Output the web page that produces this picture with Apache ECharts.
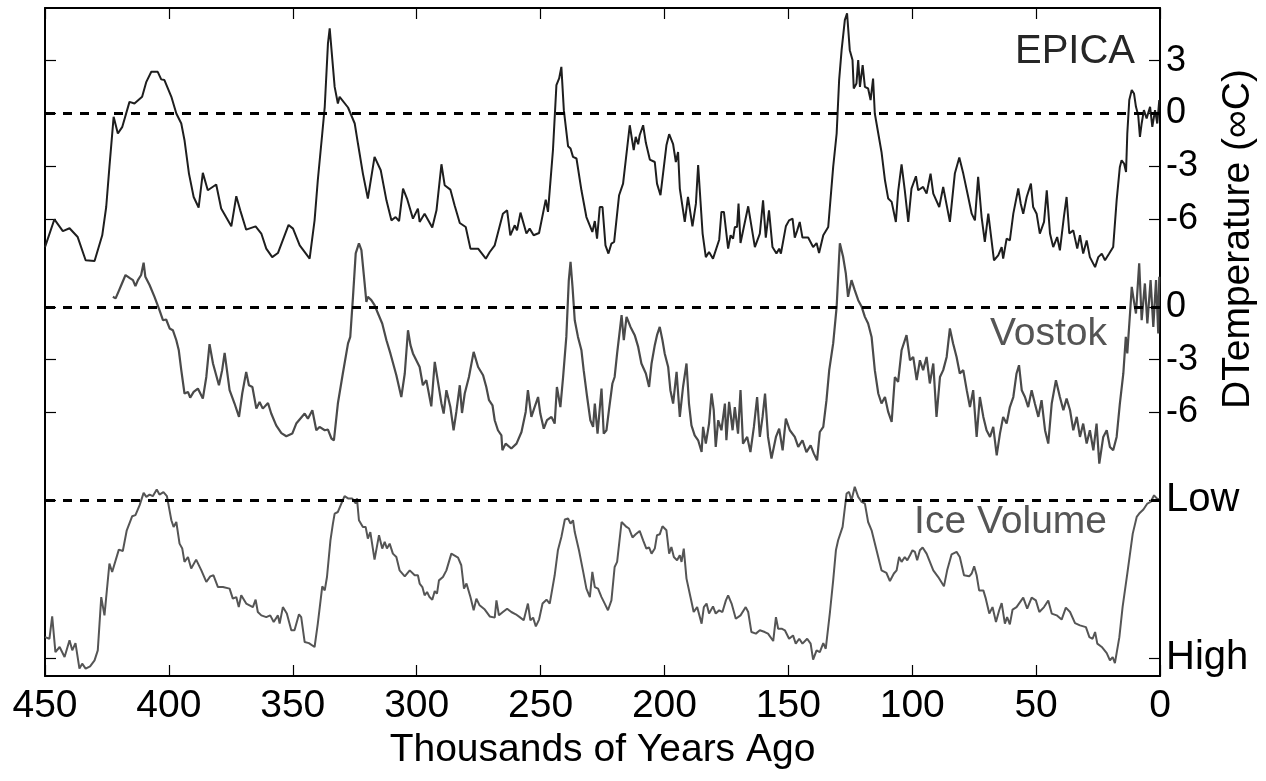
<!DOCTYPE html>
<html><head><meta charset="utf-8">
<script src="https://cdn.jsdelivr.net/npm/echarts@6/dist/echarts.min.js"></script>
<style>html,body{margin:0;padding:0;background:#fff}#c{width:1266px;height:781px}</style>
</head><body><div id="c"></div>
<script>
// ---- DATA (age in thousands of years ago, value) ----
const epica = [[450.0,-7.60],[446.2,-6.02],[442.8,-6.69],[440.1,-6.53],[436.8,-7.03],[433.6,-8.35],[430.0,-8.39],[426.9,-6.93],[425.3,-5.32],[424.0,-3.04],
[422.3,-0.19],[420.6,-1.14],[418.8,-0.76],[415.9,0.66],[413.9,0.57],[410.8,0.95],[409.1,1.80],[407.1,2.37],[404.5,2.37],[403.1,1.94],
[401.8,1.90],[399.0,0.95],[397.0,0.00],[395.0,-0.57],[393.7,-1.52],[391.9,-3.42],[390.0,-4.75],[388.0,-5.35],[386.3,-3.38],[384.3,-4.37],
[380.9,-4.04],[378.9,-5.41],[374.8,-6.42],[372.8,-4.71],[371.2,-5.51],[368.8,-6.61],[365.0,-6.42],[362.7,-6.83],[360.7,-7.69],[358.3,-8.17],
[356.0,-7.94],[351.7,-6.34],[349.9,-6.55],[347.2,-7.50],[343.2,-8.26],[341.2,-6.08],[339.9,-3.80],[338.1,-1.14],[337.1,0.38],[335.8,3.99],
[335.1,4.84],[334.4,4.84],[333.1,1.51],[331.8,0.57],[331.1,0.95],[327.7,0.34],[325.0,-0.57],[323.7,-1.71],[321.7,-3.42],[319.7,-4.84],
[317.0,-2.47],[314.5,-3.23],[312.2,-4.94],[310.2,-6.08],[308.5,-5.89],[307.1,-6.13],[305.5,-4.27],[303.9,-4.84],[301.5,-5.98],[299.5,-5.41],
[298.8,-6.17],[296.8,-5.70],[293.7,-6.49],[292.0,-5.51],[290.0,-2.89],[288.7,-4.08],[286.4,-4.33],[284.7,-5.22],[282.6,-6.23],[280.2,-6.46],
[278.3,-7.69],[275.2,-7.69],[272.1,-8.26],[270.5,-7.88],[268.5,-7.50],[265.2,-5.70],[263.5,-5.51],[262.2,-6.93],[260.4,-6.36],[259.5,-6.65],
[258.1,-5.64],[255.7,-6.83],[254.4,-6.55],[252.8,-6.93],[250.6,-6.80],[247.9,-4.90],[247.0,-5.60],[245.0,-2.09],[243.6,1.61],[242.5,1.99],
[241.6,2.65],[240.6,0.19],[238.9,-1.86],[237.9,-1.99],[236.9,-2.47],[235.5,-2.56],[233.5,-4.37],[231.5,-5.89],[229.1,-6.74],[228.1,-6.12],
[227.2,-7.12],[226.1,-5.32],[225.0,-5.32],[223.8,-7.50],[222.6,-7.97],[221.4,-7.40],[220.3,-7.31],[218.3,-4.65],[216.7,-3.99],[214.0,-0.67],
[212.4,-2.09],[211.6,-1.33],[210.6,-1.75],[210.0,-1.24],[208.6,-0.67],[207.5,-1.67],[205.9,-2.62],[203.9,-2.76],[203.0,-3.99],[201.6,-4.65],
[199.2,-1.81],[198.1,-1.18],[196.5,-1.75],[195.4,-2.76],[194.5,-2.19],[193.8,-4.27],[191.8,-6.17],[190.5,-4.75],[188.7,-6.42],[187.3,-5.13],
[186.4,-2.94],[184.6,-6.83],[183.3,-8.17],[182.0,-7.88],[180.4,-8.26],[177.9,-7.18],[177.0,-5.60],[176.0,-5.60],[174.3,-7.69],[173.3,-6.93],
[172.3,-7.12],[171.6,-6.46],[170.7,-6.46],[170.1,-5.13],[169.3,-7.37],[166.2,-5.28],[163.5,-7.60],[161.5,-6.83],[160.2,-4.94],[159.1,-7.06],
[157.8,-5.51],[156.4,-7.60],[154.8,-7.97],[153.7,-7.69],[153.0,-7.97],[151.0,-6.42],[149.7,-6.08],[148.3,-5.98],[147.4,-7.06],[146.4,-6.65],
[145.4,-6.17],[144.3,-7.06],[142.0,-7.06],[140.0,-7.60],[138.6,-7.37],[137.6,-7.94],[135.9,-6.93],[133.9,-6.46],[131.9,-3.04],[130.5,-1.14],
[129.5,1.90],[128.5,3.60],[127.2,5.31],[126.3,5.70],[125.2,3.60],[124.1,3.04],[123.6,1.42],[122.5,1.71],[121.8,3.04],[121.1,1.51],
[120.0,2.75],[119.1,1.51],[117.8,1.42],[116.8,0.76],[115.8,1.99],[115.1,0.00],[113.7,-1.14],[112.4,-2.19],[111.0,-3.80],[109.7,-4.84],
[108.3,-5.03],[106.6,-6.17],[105.7,-4.46],[104.3,-2.89],[103.0,-4.37],[101.6,-6.17],[100.3,-4.27],[98.5,-3.57],[97.6,-4.37],[95.6,-4.18],
[94.2,-4.56],[92.6,-3.42],[91.5,-4.56],[89.1,-5.32],[87.5,-4.18],[84.8,-6.17],[82.8,-3.42],[81.0,-2.51],[79.4,-3.42],[77.4,-4.75],
[76.0,-5.70],[74.7,-6.08],[73.4,-3.61],[72.0,-5.89],[70.7,-7.31],[69.3,-5.70],[67.0,-8.35],[65.3,-8.07],[63.9,-7.60],[63.3,-8.26],
[61.9,-7.12],[60.6,-7.22],[59.2,-5.70],[57.2,-4.27],[56.2,-5.13],[55.2,-5.70],[53.8,-4.75],[52.1,-3.99],[51.2,-5.32],[49.8,-5.70],
[48.5,-6.83],[46.8,-6.17],[45.7,-4.37],[44.4,-6.83],[43.1,-7.60],[41.5,-7.03],[40.4,-7.79],[38.8,-5.89],[37.7,-4.75],[36.6,-6.83],
[35.0,-6.65],[33.4,-7.69],[32.3,-6.93],[31.0,-7.97],[29.6,-7.22],[28.3,-8.17],[26.2,-8.74],[24.9,-8.17],[23.5,-7.97],[22.2,-8.35],
[20.5,-7.97],[18.9,-7.60],[17.5,-4.94],[16.2,-3.04],[15.5,-2.66],[14.5,-2.85],[13.7,-3.33],[13.2,-1.14],[12.4,0.76],[11.4,1.33],
[10.5,1.14],[9.7,0.38],[8.8,-0.10],[8.1,-1.33],[7.4,-0.57],[6.5,0.19],[5.4,-0.28],[4.0,0.38],[3.1,-0.76],[2.0,0.19],[1.1,-0.57],[0.3,0.76]];

const vostok = [[422.6,0.57],[421.5,0.48],[420.2,0.91],[419.2,1.24],[417.5,1.81],[415.6,1.62],[414.5,1.52],[413.5,1.18],[412.5,1.52],[411.2,1.81],
[410.2,2.51],[409.5,1.71],[407.8,1.24],[405.8,0.57],[403.8,-0.19],[402.4,-0.76],[401.1,-0.72],[399.7,-1.23],[398.4,-1.33],[397.0,-1.90],
[396.0,-2.47],[395.0,-3.60],[393.7,-4.93],[392.3,-4.84],[391.4,-5.16],[390.0,-4.84],[388.3,-4.65],[386.3,-5.22],[384.9,-3.99],[383.6,-2.12],
[382.2,-3.22],[379.8,-4.46],[378.5,-3.60],[377.5,-2.62],[375.5,-4.74],[373.5,-5.50],[371.7,-6.26],[370.4,-4.93],[368.8,-3.70],[367.7,-4.46],
[366.3,-4.56],[364.7,-5.79],[363.4,-5.41],[362.1,-5.79],[360.0,-5.47],[358.7,-6.07],[356.7,-6.74],[354.6,-7.18],[352.6,-7.36],[350.2,-7.21],
[348.6,-6.64],[345.2,-6.07],[343.9,-6.36],[342.1,-5.88],[340.5,-7.02],[339.2,-6.83],[337.1,-7.02],[335.8,-6.98],[334.4,-7.49],[333.4,-7.59],
[331.8,-5.50],[329.8,-3.79],[327.7,-2.08],[326.8,-1.71],[325.7,0.57],[324.6,3.04],[323.3,3.61],[322.3,3.23],[321.0,1.33],[320.3,0.28],
[319.7,0.57],[318.3,0.38],[317.0,0.10],[315.6,-0.38],[313.9,-0.95],[312.2,-1.90],[310.6,-2.65],[308.2,-3.89],[306.2,-5.13],[304.8,-3.79],
[303.5,-1.33],[302.5,-2.18],[301.5,-2.65],[299.5,-3.22],[298.8,-3.42],[297.5,-4.46],[296.1,-4.17],[294.1,-5.66],[292.7,-3.13],[291.4,-4.27],
[290.0,-5.50],[289.1,-6.07],[288.0,-4.74],[286.4,-5.70],[285.1,-7.02],[284.0,-5.98],[282.6,-4.46],[281.7,-6.04],[280.6,-4.93],[278.9,-3.99],
[277.0,-2.56],[275.2,-3.42],[273.2,-3.89],[271.9,-4.56],[270.8,-5.31],[269.4,-5.60],[268.5,-6.45],[267.2,-7.02],[265.8,-7.31],[265.4,-8.16],
[264.1,-7.78],[261.8,-8.06],[259.7,-7.78],[257.7,-7.12],[256.0,-5.98],[255.1,-4.74],[253.7,-6.26],[252.4,-5.70],[251.0,-5.13],[250.1,-6.07],
[248.7,-6.93],[247.4,-6.45],[245.6,-6.26],[244.3,-6.64],[243.4,-4.56],[242.0,-5.70],[240.9,-3.99],[239.6,-1.71],[238.6,1.52],[237.9,2.56],
[237.1,1.14],[236.2,-0.76],[234.9,-1.71],[233.5,-2.47],[232.6,-3.60],[231.2,-5.13],[229.9,-6.45],[228.8,-6.83],[228.1,-5.50],[227.0,-7.21],
[225.4,-4.65],[224.5,-7.21],[223.4,-7.02],[222.4,-5.88],[221.0,-4.36],[220.1,-3.99],[219.1,-2.65],[218.0,-1.33],[217.3,-0.47],[216.4,-1.90],
[215.3,-0.57],[213.7,-1.14],[212.0,-1.61],[210.6,-2.28],[209.3,-3.22],[207.5,-3.79],[206.2,-4.56],[205.2,-3.22],[203.9,-2.18],[203.0,-1.61],
[201.9,-1.14],[200.8,-1.90],[199.9,-2.65],[198.5,-3.42],[197.6,-4.74],[196.5,-5.50],[195.1,-3.70],[193.8,-6.26],[192.5,-4.56],[191.1,-3.22],
[190.1,-5.50],[189.1,-6.74],[187.8,-7.31],[186.4,-7.59],[185.0,-8.26],[184.4,-6.83],[183.3,-7.78],[182.0,-6.64],[181.0,-4.93],[180.1,-5.88],
[179.3,-7.97],[178.3,-6.45],[177.0,-7.02],[175.6,-5.50],[175.0,-7.59],[173.9,-5.41],[172.5,-7.02],[171.6,-5.70],[170.3,-7.21],[169.3,-4.74],
[168.3,-7.78],[166.6,-7.40],[165.3,-8.26],[163.9,-6.83],[162.6,-5.13],[161.5,-7.40],[160.4,-6.26],[159.4,-4.93],[158.2,-7.40],[156.8,-8.63],
[155.0,-7.40],[153.7,-6.93],[152.3,-8.16],[151.0,-6.36],[149.4,-7.02],[147.4,-7.40],[146.0,-7.97],[144.3,-7.59],[142.7,-8.26],[141.0,-7.88],
[139.7,-8.35],[138.4,-8.73],[137.3,-7.12],[135.9,-6.83],[134.6,-5.31],[133.5,-3.60],[131.9,-2.08],[130.5,0.00],[129.5,2.85],[129.2,3.61],
[127.9,2.85],[126.8,1.90],[125.9,0.57],[124.5,1.52],[123.2,0.95],[121.8,0.38],[120.4,0.00],[119.1,-0.57],[117.8,-0.95],[116.4,-1.71],
[115.1,-3.60],[113.7,-4.93],[112.4,-5.50],[111.0,-5.13],[109.7,-5.98],[108.3,-6.55],[107.0,-3.99],[105.7,-4.27],[104.3,-2.47],[102.3,-1.61],
[100.9,-3.04],[99.6,-2.85],[98.2,-4.17],[96.9,-3.04],[95.6,-3.60],[94.2,-2.85],[92.9,-4.36],[91.5,-3.22],[90.2,-6.26],[88.8,-3.99],
[87.5,-3.60],[86.1,-2.85],[84.8,-1.23],[83.5,-2.08],[82.1,-2.85],[80.8,-3.79],[79.4,-3.60],[78.0,-4.74],[76.7,-5.70],[75.4,-4.74],
[74.0,-7.40],[72.7,-5.13],[71.3,-6.26],[70.0,-7.02],[68.6,-7.40],[67.3,-6.83],[65.9,-8.45],[64.6,-7.21],[63.3,-6.26],[61.9,-6.64],
[60.6,-5.70],[59.2,-5.13],[57.9,-3.79],[56.9,-3.32],[55.8,-4.74],[54.5,-5.13],[53.2,-5.70],[51.8,-4.74],[50.5,-5.50],[49.1,-6.26],
[47.8,-5.31],[46.4,-7.02],[45.1,-7.78],[43.7,-5.50],[42.0,-4.17],[40.4,-5.13],[39.0,-5.88],[37.7,-5.22],[36.3,-5.88],[35.0,-7.02],
[33.6,-6.26],[32.3,-7.40],[31.0,-6.64],[29.6,-7.78],[28.3,-7.02],[26.9,-8.16],[25.6,-6.64],[24.5,-8.92],[22.9,-7.40],[21.5,-7.02],
[20.2,-7.97],[18.9,-8.16],[17.5,-7.40],[16.2,-5.50],[14.8,-3.79],[13.8,-1.71],[13.2,-2.65],[12.1,-0.38],[11.4,1.14],[10.8,0.57],
[9.7,-0.38],[8.4,2.47],[7.4,-0.76],[6.1,1.33],[5.1,-0.95],[3.8,1.52],[2.7,-1.14],[1.6,1.52],[0.7,-1.52],[0.3,1.71]];

// Ice volume index: 0 = "Low" reference, -9 = "High" reference
const iceVolume = [[450.0,-7.79],[448.2,-7.88],[447.1,-6.61],[445.8,-8.64],[444.1,-8.35],[442.1,-8.92],[440.1,-7.97],[439.0,-8.54],[437.7,-8.13],[436.1,-9.58],
[435.0,-9.30],[433.6,-9.58],[431.8,-9.45],[430.0,-9.11],[428.7,-8.54],[427.3,-5.51],[426.0,-6.55],[424.0,-3.60],[422.9,-4.08],[420.2,-2.81],
[418.6,-2.89],[417.0,-1.71],[414.8,-0.91],[413.5,-0.85],[411.8,-0.28],[410.2,0.42],[409.1,0.19],[407.8,0.32],[406.5,0.23],[404.9,0.61],
[403.8,0.32],[402.2,0.46],[400.8,0.23],[399.0,-1.14],[398.1,-1.52],[397.0,-1.24],[395.7,-2.47],[394.6,-2.75],[393.7,-3.51],[392.3,-3.23],
[391.0,-3.89],[389.0,-3.38],[386.9,-3.99],[384.9,-4.65],[383.3,-4.33],[382.0,-4.27],[380.2,-4.94],[378.2,-4.94],[375.5,-5.03],[374.2,-5.60],
[372.8,-5.51],[371.8,-6.08],[370.8,-5.41],[368.8,-5.88],[366.1,-6.08],[365.0,-5.66],[364.1,-6.36],[362.7,-6.55],[360.7,-6.65],[359.1,-6.55],
[357.7,-6.93],[356.0,-6.55],[355.3,-7.02],[354.0,-6.08],[352.4,-6.45],[350.6,-7.40],[349.3,-7.40],[347.5,-6.49],[346.6,-6.65],[345.2,-8.07],
[343.5,-8.13],[341.2,-8.35],[339.9,-7.02],[338.1,-4.90],[337.1,-5.13],[336.2,-4.37],[334.8,-2.28],[333.8,-1.33],[333.1,-0.76],[331.8,-0.67],
[330.4,-0.19],[329.1,0.23],[327.7,0.10],[326.0,0.10],[324.6,-0.19],[324.1,0.10],[323.3,-1.14],[321.7,-1.52],[320.6,-1.52],[319.7,-2.18],
[318.7,-1.81],[317.0,-3.38],[315.2,-1.99],[313.9,-2.75],[312.9,-2.37],[312.0,-2.75],[310.9,-2.47],[309.6,-3.04],[308.2,-3.23],[306.9,-3.99],
[304.8,-4.33],[302.8,-3.99],[300.8,-4.27],[299.5,-4.27],[298.8,-4.74],[297.7,-4.94],[296.8,-5.41],[295.8,-5.22],[294.8,-5.51],[293.7,-5.66],
[292.7,-5.17],[291.8,-5.31],[291.0,-4.56],[289.4,-4.37],[288.0,-3.99],[286.0,-3.04],[283.3,-3.26],[282.0,-3.70],[280.9,-5.03],[279.9,-4.74],
[278.3,-5.51],[277.0,-6.26],[275.9,-5.60],[274.6,-5.98],[272.5,-6.22],[270.5,-6.61],[268.5,-6.68],[267.8,-5.70],[266.8,-6.55],[265.2,-6.36],
[263.5,-6.17],[261.8,-6.36],[260.0,-6.49],[258.4,-6.65],[256.8,-6.83],[255.1,-5.88],[254.1,-6.83],[253.0,-6.68],[251.9,-7.18],[250.6,-6.79],
[249.2,-5.88],[247.6,-5.66],[246.3,-5.88],[244.3,-4.27],[243.0,-2.85],[241.6,-2.09],[240.2,-1.10],[238.9,-1.04],[237.9,-1.33],[236.9,-1.14],
[236.2,-1.81],[234.5,-2.85],[232.9,-3.99],[231.5,-5.03],[230.1,-5.51],[229.1,-4.08],[228.1,-4.94],[226.8,-5.03],[225.4,-5.51],[224.1,-5.88],
[222.8,-6.26],[221.4,-5.70],[220.1,-3.80],[219.1,-3.51],[217.3,-1.24],[215.3,-1.52],[214.3,-1.61],[212.9,-2.12],[211.6,-1.94],[210.0,-1.75],
[208.6,-2.28],[207.3,-2.75],[206.2,-2.69],[205.2,-3.04],[203.9,-2.75],[203.0,-1.99],[201.9,-1.94],[200.8,-1.48],[199.2,-1.71],[198.1,-3.04],
[197.2,-2.66],[196.2,-3.23],[194.9,-3.42],[193.8,-3.13],[193.1,-3.51],[192.2,-2.75],[191.1,-4.46],[189.5,-5.51],[188.2,-6.36],[186.8,-6.08],
[185.0,-7.02],[184.1,-6.08],[183.0,-5.88],[182.0,-6.45],[180.4,-6.04],[179.3,-6.45],[177.9,-6.26],[176.6,-6.36],[175.2,-5.70],[174.3,-5.41],
[172.9,-5.88],[171.2,-6.74],[169.3,-6.55],[167.2,-6.08],[166.2,-6.36],[164.9,-7.50],[163.1,-7.59],[161.5,-7.40],[159.5,-7.50],[158.2,-7.59],
[156.1,-8.01],[155.0,-6.65],[154.1,-7.31],[152.7,-7.31],[151.4,-7.40],[149.7,-7.88],[148.1,-7.69],[147.0,-8.16],[145.6,-7.88],[144.3,-8.16],
[142.4,-7.88],[141.0,-8.16],[140.0,-9.07],[138.6,-8.54],[137.3,-8.64],[135.9,-8.13],[134.9,-8.45],[133.2,-6.36],[131.9,-4.56],[130.8,-2.85],
[129.9,-2.28],[128.1,-1.52],[126.5,0.38],[125.5,0.47],[124.5,0.00],[123.2,0.76],[121.8,0.19],[120.4,-0.10],[119.1,-0.19],[117.8,-1.24],
[116.4,-1.71],[114.4,-2.85],[112.4,-3.99],[110.4,-4.14],[109.0,-4.60],[107.4,-4.17],[106.3,-3.99],[105.3,-3.23],[104.3,-3.51],[103.0,-3.23],
[102.0,-3.42],[100.9,-3.13],[99.9,-2.85],[98.9,-2.94],[98.0,-3.42],[96.9,-2.85],[95.8,-2.69],[94.2,-3.04],[91.5,-3.99],[89.5,-4.37],
[87.2,-4.90],[85.9,-3.99],[84.1,-3.08],[82.1,-2.94],[80.8,-3.23],[79.1,-4.27],[77.0,-4.33],[76.0,-4.17],[75.0,-3.76],[74.0,-4.27],
[73.0,-5.13],[71.3,-5.13],[70.3,-5.60],[68.9,-6.45],[67.6,-6.08],[66.2,-6.93],[64.9,-6.26],[63.9,-5.85],[62.6,-7.02],[61.7,-6.65],
[60.6,-7.06],[59.5,-6.22],[57.9,-6.08],[55.2,-5.54],[53.6,-6.17],[51.8,-5.54],[50.1,-5.70],[48.7,-6.36],[46.8,-6.08],[45.1,-5.70],
[43.7,-6.45],[41.7,-6.55],[39.7,-6.79],[38.0,-6.11],[36.3,-6.36],[34.3,-6.99],[32.3,-7.12],[29.9,-7.22],[28.5,-7.79],[27.2,-7.88],
[26.2,-7.50],[25.3,-8.16],[23.5,-8.35],[21.5,-8.70],[20.2,-9.11],[19.1,-8.92],[18.2,-9.27],[16.4,-7.79],[15.1,-6.08],[13.2,-4.17],
[11.0,-1.90],[9.4,-0.95],[8.4,-0.76],[6.7,-0.53],[5.1,-0.19],[3.8,-0.10],[2.4,0.28],[1.3,0.10],[0.3,0.04]];

const seriesNames = ['EPICA', 'Vostok', 'Ice Volume'];
const epicaTicks = [3, 0, -3, -6];
const vostokTicks = [0, -3, -6];
const iceTickLevels = [0, -9];
const iceTickLabels = ['Low', 'High'];
const xAxisTitle = 'Thousands of Years Ago';
const yAxisTitle = 'DTemperature (\u221EC)';

// ---- LAYOUT: vertical stacking offsets of the three panels ----
const panelOffset = { epica: 0, vostok: -11, ice: -22 };
const FONT = '"Liberation Sans", Arial, Helvetica, sans-serif';

const tickEntries = [];
epicaTicks.forEach(v => tickEntries.push({ pos: v + panelOffset.epica, label: String(v), big: false }));
vostokTicks.forEach(v => tickEntries.push({ pos: v + panelOffset.vostok, label: String(v), big: false }));
iceTickLevels.forEach((v, i) => tickEntries.push({ pos: v + panelOffset.ice, label: iceTickLabels[i], big: true }));
const tickPositions = tickEntries.map(t => t.pos);
function tickLabel(val) {
  const t = tickEntries.find(e => Math.abs(e.pos - val) < 1e-6);
  if (!t) return '';
  return t.big ? '{big|' + t.label + '}' : t.label;
}
const shift = (d, off) => d.map(p => [p[0], p[1] + off]);
const baselines = [panelOffset.epica, panelOffset.vostok, panelOffset.ice];

const chart = echarts.init(document.getElementById('c'), null, { renderer: 'canvas' });
const axisLineStyle = { color: '#000', width: 2 };
const tickStyle = { color: '#000', width: 1.2 };
chart.setOption({
  animation: false,
  backgroundColor: '#fff',
  grid: { left: 45, right: 106, top: 8, bottom: 105, containLabel: false },
  xAxis: [{
    type: 'value', min: 0, max: 450, interval: 50, inverse: true, position: 'bottom',
    axisLine: { show: true, onZero: false, lineStyle: axisLineStyle },
    axisTick: { show: true, inside: true, length: 11, lineStyle: tickStyle },
    axisLabel: { fontSize: 39, color: '#000', fontFamily: FONT, margin: 11 },
    splitLine: { show: false },
    name: xAxisTitle, nameLocation: 'middle', nameGap: 53,
    nameTextStyle: { fontSize: 39, color: '#000', fontFamily: FONT }
  }, {
    type: 'value', min: 0, max: 450, interval: 50, inverse: true, position: 'top',
    axisLine: { show: true, onZero: false, lineStyle: axisLineStyle },
    axisTick: { show: true, inside: true, length: 11, lineStyle: tickStyle },
    axisLabel: { show: false }, splitLine: { show: false }
  }],
  yAxis: [{
    type: 'value', min: -32, max: 6, position: 'right',
    axisLine: { show: true, onZero: false, lineStyle: axisLineStyle },
    axisTick: { show: true, inside: true, length: 11, lineStyle: tickStyle, customValues: tickPositions },
    axisLabel: {
      customValues: tickPositions, formatter: tickLabel, fontSize: 36, color: '#000', fontFamily: FONT, margin: 6,
      rich: { big: { fontSize: 40, color: '#000', fontFamily: FONT } }
    },
    splitLine: { show: false }
  }, {
    type: 'value', min: -32, max: 6, position: 'left',
    axisLine: { show: true, onZero: false, lineStyle: axisLineStyle },
    axisTick: { show: true, inside: true, length: 11, lineStyle: tickStyle, customValues: tickPositions },
    axisLabel: { show: false }, splitLine: { show: false }
  }],
  series: [{
    name: seriesNames[0], type: 'line', xAxisIndex: 0, yAxisIndex: 0, symbol: 'none',
    data: shift(epica, panelOffset.epica),
    lineStyle: { color: '#1e1e1e', width: 2 }, z: 3,
    markLine: {
      silent: true, symbol: 'none', label: { show: false },
      lineStyle: { color: '#000', width: 3, type: [9, 8] },
      data: baselines.map(b => ({ yAxis: b }))
    }
  }, {
    name: seriesNames[1], type: 'line', xAxisIndex: 0, yAxisIndex: 0, symbol: 'none',
    data: shift(vostok, panelOffset.vostok),
    lineStyle: { color: '#4a4a4a', width: 2.2 }, z: 2
  }, {
    name: seriesNames[2], type: 'line', xAxisIndex: 0, yAxisIndex: 0, symbol: 'none',
    data: shift(iceVolume, panelOffset.ice),
    lineStyle: { color: '#555', width: 2 }, z: 2
  }],
  graphic: [
    { type: 'text', x: 1135, y: 52, style: { text: seriesNames[0], font: '40px ' + FONT, fill: '#262626', align: 'right', verticalAlign: 'middle' } },
    { type: 'text', x: 1107, y: 334, style: { text: seriesNames[1], font: '39px ' + FONT, fill: '#555', align: 'right', verticalAlign: 'middle' } },
    { type: 'text', x: 1107, y: 522, style: { text: seriesNames[2], font: '39px ' + FONT, fill: '#555', align: 'right', verticalAlign: 'middle' } },
    { type: 'text', x: 1238, y: 239, rotation: Math.PI / 2, style: { text: yAxisTitle, font: '39px ' + FONT, fill: '#000', align: 'center', verticalAlign: 'middle' } }
  ]
});
</script>
</body></html>
